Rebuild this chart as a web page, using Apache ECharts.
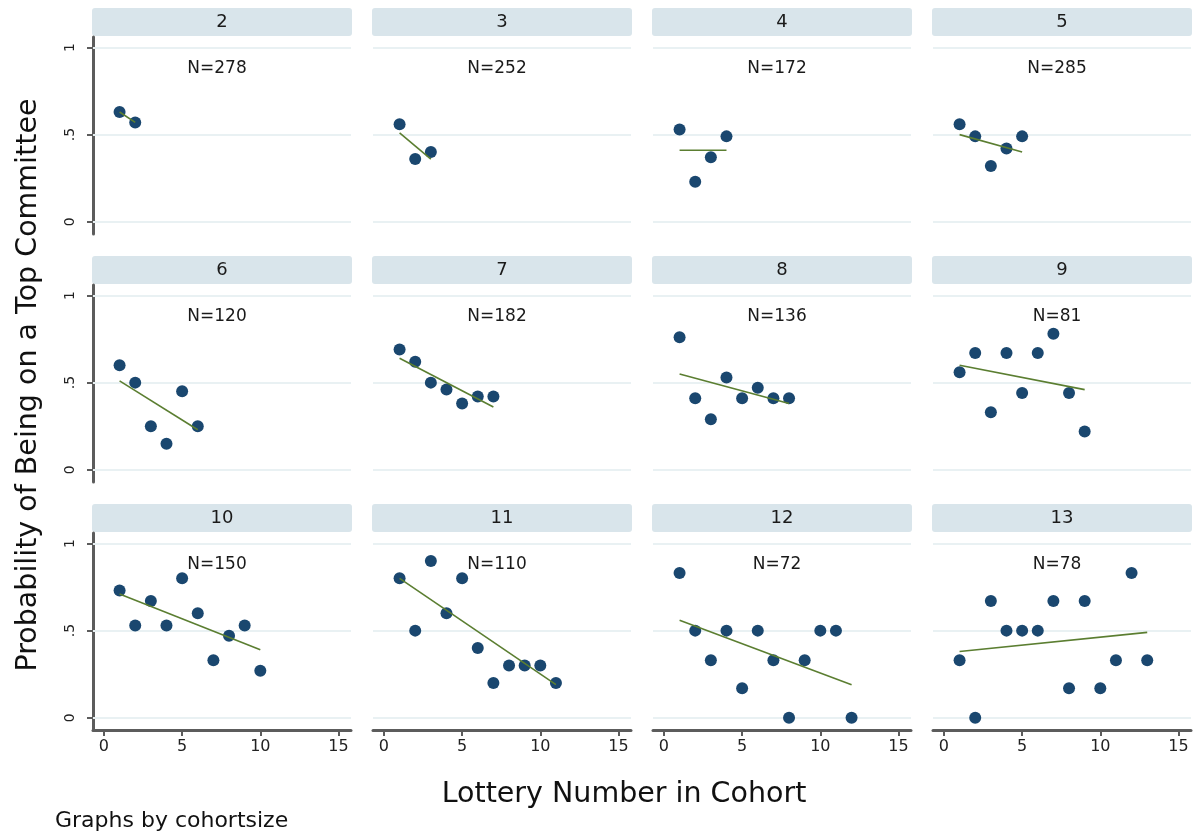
<!DOCTYPE html>
<html>
<head>
<meta charset="utf-8">
<script src="https://cdn.jsdelivr.net/npm/echarts@6/dist/echarts.min.js"></script>
<style>
  html, body { margin: 0; padding: 0; background: #fff; }
  #chart { width: 1194px; height: 835px; }
</style>
</head>
<body>
<div id="chart"></div>
<script>
// Cohort sizes (one panel each) and number of members per cohort size
const cohortSizes = [2, 3, 4, 5, 6, 7, 8, 9, 10, 11, 12, 13];
const nCounts = [278, 252, 172, 285, 120, 182, 136, 81, 150, 110, 72, 78];

// Share on a top committee, by lottery number 1..k within each cohort size
const shareTop = [
  [0.63, 0.57],
  [0.56, 0.36, 0.40],
  [0.53, 0.23, 0.37, 0.49],
  [0.56, 0.49, 0.32, 0.42, 0.49],
  [0.60, 0.50, 0.25, 0.15, 0.45, 0.25],
  [0.69, 0.62, 0.50, 0.46, 0.38, 0.42, 0.42],
  [0.76, 0.41, 0.29, 0.53, 0.41, 0.47, 0.41, 0.41],
  [0.56, 0.67, 0.33, 0.67, 0.44, 0.67, 0.78, 0.44, 0.22],
  [0.73, 0.53, 0.67, 0.53, 0.80, 0.60, 0.33, 0.47, 0.53, 0.27],
  [0.80, 0.50, 0.90, 0.60, 0.80, 0.40, 0.20, 0.30, 0.30, 0.30, 0.20],
  [0.83, 0.50, 0.33, 0.50, 0.17, 0.50, 0.33, 0.00, 0.33, 0.50, 0.50, 0.00],
  [0.33, 0.00, 0.67, 0.50, 0.50, 0.50, 0.67, 0.17, 0.67, 0.17, 0.33, 0.83, 0.33]
];

// Linear fit per panel: fitted value at lottery number 1 and at lottery number k
const fitFirst = [0.63, 0.51, 0.41, 0.50, 0.51, 0.64, 0.55, 0.60, 0.71, 0.80, 0.56, 0.38];
const fitLast  = [0.57, 0.36, 0.41, 0.40, 0.23, 0.36, 0.38, 0.46, 0.39, 0.19, 0.19, 0.49];

// Axis ticks
const xTicks = [0, 5, 10, 15];
const yTicks = [0, 0.5, 1];
const yTickText = ['0', '.5', '1'];

const FONT = 'DejaVu Sans';
const NAVY = '#1a476f';
const FIT = '#5b7e31';
const AXIS = '#5c5c5c';
const GRIDC = '#e9f1f3';

const COL_X0 = 93, COL_STEP = 280, PLOT_W = 258;
const ROW_Y0 = 37, ROW_STEP = 248, PLOT_H = 197;

const grids = [], xAxes = [], yAxes = [], series = [], graphics = [];

cohortSizes.forEach((k, i) => {
  const r = Math.floor(i / 4), c = i % 4;
  const left = COL_X0 + c * COL_STEP;
  const top = ROW_Y0 + r * ROW_STEP;
  const bottomRow = r === 2, firstCol = c === 0;

  grids.push({ left: left, top: top, width: PLOT_W, height: PLOT_H });

  xAxes.push({
    gridIndex: i, type: 'value', min: -0.7, max: 15.8,
    axisLine: { show: bottomRow, onZero: false, lineStyle: { color: AXIS, width: 3 } },
    axisTick: { show: bottomRow, customValues: xTicks, length: 6, lineStyle: { color: AXIS, width: 2 } },
    axisLabel: { show: bottomRow, customValues: xTicks, fontFamily: FONT, fontSize: 16, color: '#222', margin: 9 },
    splitLine: { show: false }
  });

  yAxes.push({
    gridIndex: i, type: 'value', min: -0.07, max: 1.06,
    axisLine: { show: firstCol, onZero: false, lineStyle: { color: AXIS, width: 3 } },
    axisTick: { show: firstCol, customValues: yTicks, length: 6, lineStyle: { color: AXIS, width: 2 } },
    axisLabel: {
      show: firstCol, customValues: yTicks, rotate: 90, fontFamily: FONT, fontSize: 14,
      color: '#222', margin: 16,
      formatter: v => yTickText[yTicks.indexOf(v)] ?? ''
    },
    splitLine: { show: false }
  });

  series.push({
    type: 'scatter', xAxisIndex: i, yAxisIndex: i,
    data: shareTop[i].map((v, j) => [j + 1, v]),
    symbol: 'circle', symbolSize: 12,
    itemStyle: { color: NAVY, opacity: 1 },
    z: 3,
    markLine: {
      silent: true, symbol: 'none', z: 1,
      lineStyle: { color: GRIDC, width: 2, type: 'solid' },
      label: { show: false },
      data: yTicks.map(v => ({ yAxis: v }))
    }
  });

  series.push({
    type: 'line', xAxisIndex: i, yAxisIndex: i,
    data: [[1, fitFirst[i]], [k, fitLast[i]]],
    showSymbol: false, symbol: 'none',
    lineStyle: { color: FIT, width: 1.6 },
    z: 4, silent: true
  });

  // panel header strip with the cohort size
  graphics.push({
    type: 'rect', z: 0,
    shape: { x: left - 1, y: 8 + r * ROW_STEP, width: PLOT_W + 2, height: 28, r: 3 },
    style: { fill: '#d9e5eb' }
  });
  graphics.push({
    type: 'text', z: 1,
    x: left + PLOT_W / 2, y: 22 + r * ROW_STEP,
    style: { text: String(k), font: '18px "' + FONT + '"', fill: '#1a1a1a', textAlign: 'center', textVerticalAlign: 'middle' }
  });
  // sample size note
  graphics.push({
    type: 'text', z: 5,
    x: left + PLOT_W / 2 - 5, y: 69 + r * ROW_STEP,
    style: { text: 'N=' + nCounts[i], font: '17px "' + FONT + '"', fill: '#1a1a1a', textAlign: 'center', textVerticalAlign: 'middle' }
  });
});

// overall axis titles and note
graphics.push({
  type: 'text', x: 29, y: 385, rotation: Math.PI / 2,
  style: { text: 'Probability of Being on a Top Committee', font: '28.5px "' + FONT + '"', fill: '#111', textAlign: 'center', textVerticalAlign: 'middle' }
});
graphics.push({
  type: 'text', x: 624, y: 795,
  style: { text: 'Lottery Number in Cohort', font: '28.5px "' + FONT + '"', fill: '#111', textAlign: 'center', textVerticalAlign: 'middle' }
});
graphics.push({
  type: 'text', x: 55, y: 821,
  style: { text: 'Graphs by cohortsize', font: '22px "' + FONT + '"', fill: '#111', textAlign: 'left', textVerticalAlign: 'middle' }
});

const chart = echarts.init(document.getElementById('chart'), null, { renderer: 'canvas' });
chart.setOption({
  animation: false,
  backgroundColor: '#ffffff',
  grid: grids,
  xAxis: xAxes,
  yAxis: yAxes,
  series: series,
  graphic: graphics
});
</script>
</body>
</html>
